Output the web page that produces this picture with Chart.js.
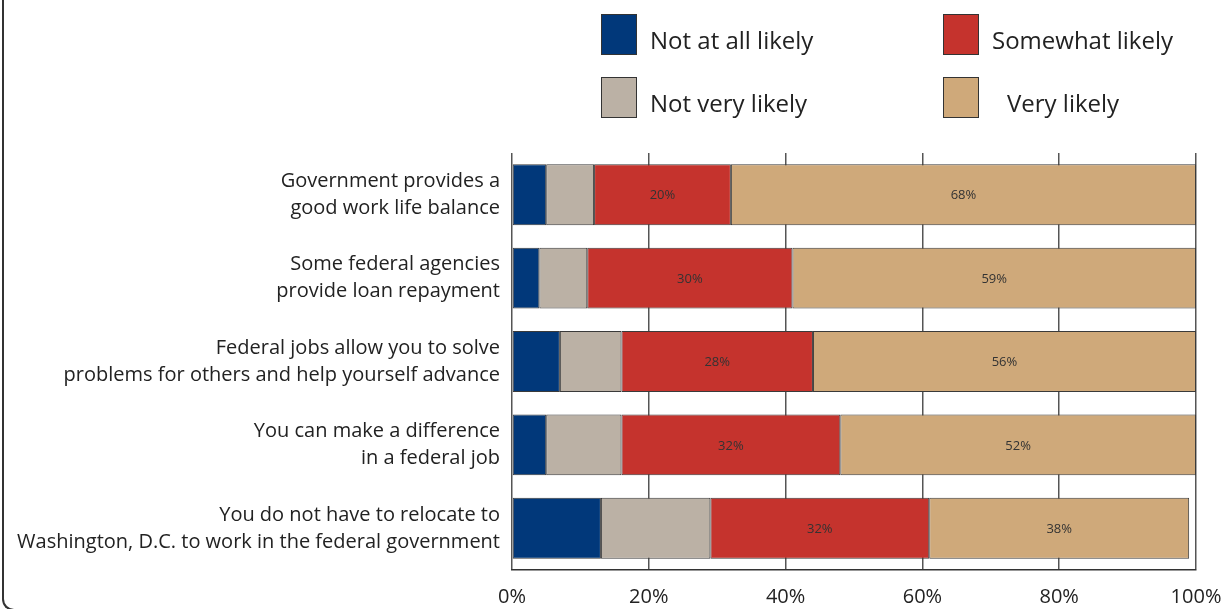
<!DOCTYPE html>
<html>
<head>
<meta charset="utf-8">
<script src="https://cdn.jsdelivr.net/npm/chart.js@4.4.1/dist/chart.umd.min.js"></script>
<style>
    html, body { margin: 0; padding: 0; background: #fff; }
    #wrap { position: relative; width: 1224px; height: 609px; overflow: hidden; font-family: 'Open Sans', sans-serif; }
    #frame { position: absolute; left: 2px; top: -20px; width: 1300px; height: 629px;
             border-left: 2px solid #333; border-bottom: 2px solid #333; border-bottom-left-radius: 12px; }
    #legend { position: absolute; left: 0; top: 0; }
    .item { position: absolute; display: flex; align-items: center; font-size: 24px; color: #222; white-space: nowrap; }
    .item span { position: relative; top: 5px; }
    .box { flex: 0 0 auto; width: 34px; height: 39px; border: 1px solid #333; }
</style>
</head>
<body>
<div id="wrap">
    <div id="frame"></div>
    <canvas id="grafico"></canvas>
    <div id="legend"></div>
</div>
<script>
var categorias = [
    ['Government provides a', 'good work life balance'],
    ['Some federal agencies', 'provide loan repayment'],
    ['Federal jobs allow you to solve', 'problems for others and help yourself advance'],
    ['You can make a difference', 'in a federal job'],
    ['You do not have to relocate to', 'Washington, D.C. to work in the federal government']
];
var nadaProvavel = [5, 4, 7, 5, 13];
var poucoProvavel = [7, 7, 9, 11, 16];
var algoProvavel = [20, 30, 28, 32, 32];
var muitoProvavel = [68, 59, 56, 52, 38];
var ticksX = ['0%', '20%', '40%', '60%', '80%', '100%'];

var cores = ['#01387a', '#bbb1a5', '#c5332d', '#cfa97a'];

// rotulos so nos dois ultimos grupos
var rotulos = {
    id: 'rotulos',
    afterDatasetsDraw: function (chart) {
        var c = chart.ctx;
        c.save();
        c.font = '13px "Open Sans", sans-serif';
        c.fillStyle = '#333';
        c.textAlign = 'center';
        c.textBaseline = 'middle';
        [2, 3].forEach(function (i) {
            var meta = chart.getDatasetMeta(i);
            meta.data.forEach(function (bar, j) {
                var v = chart.data.datasets[i].data[j];
                c.fillText(v + '%', (bar.x + bar.base) / 2, bar.y + 1);
            });
        });
        c.restore();
    }
};

var ctx = document.getElementById('grafico');
var myChart = new Chart(ctx, {
    type: 'bar',
    data: {
        labels: categorias,
        datasets: [
            { label: 'Not at all likely', data: nadaProvavel },
            { label: 'Not very likely', data: poucoProvavel },
            { label: 'Somewhat likely', data: algoProvavel },
            { label: 'Very likely', data: muitoProvavel }
        ].map(function (d, i) {
            d.backgroundColor = cores[i];
            d.borderColor = '#3a3a3a';
            d.borderWidth = 1;
            d.borderSkipped = false;
            d.barPercentage = 0.73;
            d.categoryPercentage = 1;
            return d;
        })
    },
    options: {
        indexAxis: 'y',
        responsive: true,
        maintainAspectRatio: false,
        animation: false,
        layout: { padding: { top: 153, right: 28, left: 0, bottom: 0 } },
        plugins: {
            legend: { display: false },
            tooltip: { enabled: false }
        },
        scales: {
            x: {
                stacked: true,
                min: 0,
                max: 100,
                ticks: {
                    stepSize: 20,
                    padding: 15,
                    color: '#222',
                    font: { family: 'Open Sans', size: 20 },
                    callback: function (v, i) { return ticksX[i]; }
                },
                grid: { color: '#555', lineWidth: 1.5, drawTicks: false },
                border: { color: '#333', width: 1.5 },
                afterFit: function (s) { s.height = 36; s.paddingLeft = 0; s.paddingRight = 0; }
            },
            y: {
                stacked: true,
                ticks: {
                    padding: 12,
                    color: '#222',
                    font: { family: 'Open Sans', size: 20, lineHeight: 1.35 }
                },
                grid: { display: false, drawTicks: false },
                border: { display: false },
                afterFit: function (s) { s.width = 512; }
            }
        }
    },
    plugins: [rotulos]
});

// legenda 2x2 montada a partir dos datasets
var colunas = [601, 943];
var linhas = [14, 77];
var espacos = [13, 13, 13, 28];
var ordem = [0, 2, 1, 3];
var leg = document.getElementById('legend');
ordem.forEach(function (k, n) {
    var ds = myChart.data.datasets[k];
    var el = document.createElement('div');
    el.className = 'item';
    el.style.left = colunas[n % 2] + 'px';
    el.style.top = linhas[Math.floor(n / 2)] + 'px';
    el.innerHTML = '<div class="box" style="background:' + ds.backgroundColor +
        ';margin-right:' + espacos[n] + 'px"></div><span>' + ds.label + '</span>';
    leg.appendChild(el);
});
</script>
</body>
</html>
